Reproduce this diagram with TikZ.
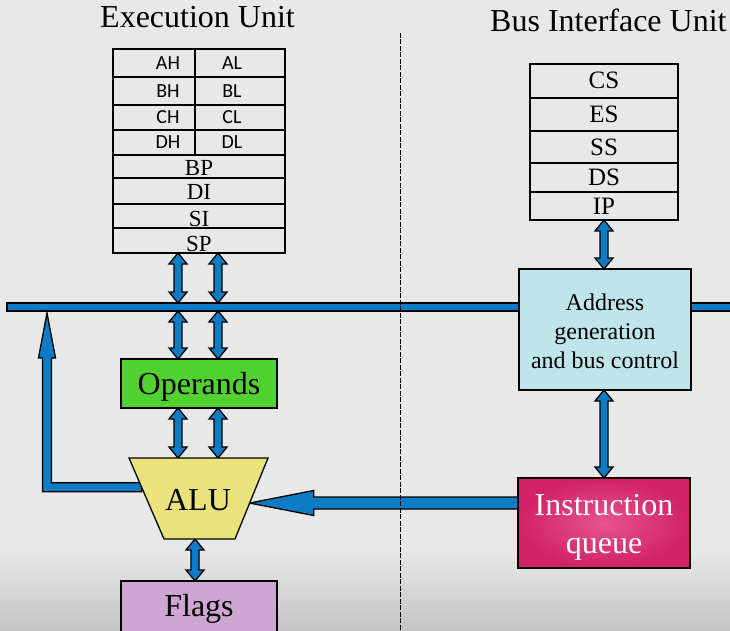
\documentclass[tikz,border=0pt]{standalone}
\usepackage{fontspec}
\setmainfont{Liberation Serif}
\newfontfamily\calib{Carlito}
\usetikzlibrary{calc}
\definecolor{busblue}{RGB}{14,124,196}
\definecolor{bgc}{RGB}{232,232,232}
\definecolor{bgd}{RGB}{196,196,196}
\definecolor{opsg}{RGB}{82,210,48}
\definecolor{aluy}{RGB}{234,226,122}
\definecolor{flagp}{RGB}{206,166,210}
\definecolor{agcc}{RGB}{190,230,234}
\definecolor{iqo}{RGB}{208,34,100}
\definecolor{iqi}{RGB}{230,84,144}
\tikzset{
  cell/.style={draw=black, line width=1.3pt, inner sep=0pt, outer sep=0pt, anchor=north west},
  eufont/.style={font=\fontsize{23}{23}\selectfont, text depth=0pt},
  biufont/.style={font=\fontsize{25}{25}\selectfont},
  rl/.style={inner sep=0pt, font=\calib\fontsize{20}{20}\selectfont},
  ttl/.style={anchor=base west, inner sep=0pt, font=\fontsize{32}{32}\selectfont},
  box/.style={draw=black, line width=1.3pt, inner sep=0pt, outer sep=0pt, anchor=north west},
  boxtext/.style={inner sep=0pt, align=center},
  busbar/.style={fill=busblue, draw=black, line width=1.3pt, inner sep=0pt, outer sep=0pt, anchor=north west, minimum height=8pt},
  arr/.style={fill=busblue, draw=black, line width=1.3pt, line join=miter},
  dashline/.style={draw=black, line width=0.9pt, dash pattern=on 5pt off 1.5pt}
}
\newcommand\vdarr[2]{\draw[arr] let \p1=(#1), \p2=(#2) in
  (\x1,\y1) -- (\x1+9pt,\y1-11pt) -- (\x1+4pt,\y1-11pt) -- (\x1+4pt,\y2+11pt) -- (\x1+9pt,\y2+11pt)
  -- (\x1,\y2) -- (\x1-9pt,\y2+11pt) -- (\x1-4pt,\y2+11pt) -- (\x1-4pt,\y1-11pt) -- (\x1-9pt,\y1-11pt) -- cycle;}
\begin{document}
\begin{tikzpicture}[x=1pt,y=-1pt]
\clip (0,0) rectangle (730,631);
\fill[bgc] (0,0) rectangle (730,631);
\shade[top color=bgc, bottom color=bgd] (0,550) rectangle (730,631);

% titles
\node[ttl] (eu) at (100,28) {Execution Unit};
\node[ttl] (biu) at (490,32) {Bus Interface Unit};

% EU registers
\node[cell, minimum width=82pt, minimum height=28pt] (ah) at (113,49) {};
\node[cell, minimum width=90pt, minimum height=28pt] (al) at (195,49) {};
\node[cell, minimum width=82pt, minimum height=28pt] (bh) at (113,77) {};
\node[cell, minimum width=90pt, minimum height=28pt] (bl) at (195,77) {};
\node[cell, minimum width=82pt, minimum height=25pt] (ch) at (113,105) {};
\node[cell, minimum width=90pt, minimum height=25pt] (cl) at (195,105) {};
\node[cell, minimum width=82pt, minimum height=25pt] (dh) at (113,130) {};
\node[cell, minimum width=90pt, minimum height=25pt] (dl) at (195,130) {};
\node[cell, eufont, text height=18pt, minimum width=172pt, minimum height=23pt] (bp) at (113,155) {BP};
\node[cell, eufont, text height=17pt, minimum width=172pt, minimum height=26pt] (di) at (113,178) {DI};
\node[cell, eufont, text height=21pt, minimum width=172pt, minimum height=24pt] (si) at (113,204) {SI};
\node[cell, eufont, text height=21pt, minimum width=172pt, minimum height=25pt] (sp) at (113,228) {SP};
\node[rl] (tah) at (168,63) {AH};
\node[rl] (tal) at (232,63) {AL};
\node[rl] (tbh) at (168,91) {BH};
\node[rl] (tbl) at (232,91) {BL};
\node[rl] (tch) at (168,117.5) {CH};
\node[rl] (tcl) at (232,117.5) {CL};
\node[rl] (tdh) at (168,142.5) {DH};
\node[rl] (tdl) at (232,142.5) {DL};

% BIU registers
\node[cell, biufont, minimum width=148pt, minimum height=34pt] (cs) at (530,64) {\raisebox{1.5pt}{CS}};
\node[cell, biufont, minimum width=148pt, minimum height=33pt] (es) at (530,98) {ES};
\node[cell, biufont, minimum width=148pt, minimum height=32pt] (ss) at (530,131) {SS};
\node[cell, biufont, minimum width=148pt, minimum height=29pt] (ds) at (530,163) {DS};
\node[cell, biufont, minimum width=148pt, minimum height=28pt] (ip) at (530,192) {IP};

% bus
\node[busbar, minimum width=512pt] (busL) at (7,303) {};
\node[busbar, minimum width=50pt] (busR) at (691,303) {};

% boxes
\coordinate (aluTL) at (129,458);
\coordinate (aluTR) at (268,458);
\coordinate (aluBR) at (235,539);
\coordinate (aluBL) at (164,539);
\node[box, fill=opsg, minimum width=156pt, minimum height=49pt] (ops) at (121,359) {};
\node[boxtext, font=\fontsize{32}{32}\selectfont, yshift=-3pt] (opst) at (ops.center) {Operands};
\node[box, fill=flagp, minimum width=156pt, minimum height=56pt, font=\fontsize{32}{32}\selectfont] (flags) at (121,581) {Flags};
\node[box, fill=agcc, minimum width=172pt, minimum height=121pt] (agc) at (519,269) {};
\node[boxtext, font=\fontsize{24}{29}\selectfont, yshift=-2pt] (agct) at (agc.center) {Address\\generation\\and bus control};
\node[box, inner color=iqi, outer color=iqo, minimum width=172pt, minimum height=90pt] (iq) at (518,478) {};
\node[boxtext, text=white, font=\fontsize{32}{38}\selectfont, yshift=-4pt] (iqt) at (iq.center) {Instruction\\queue};

% arrow x positions
\coordinate (xa) at (178,0);
\coordinate (xb) at (218,0);
\coordinate (xf) at (195,0);
\coordinate (xr) at (604,0);
\coordinate (xl) at (47,0);
\coordinate (qy) at (0,503);

\vdarr{xa |- sp.south}{xa |- busL.north}
\vdarr{xb |- sp.south}{xb |- busL.north}
\vdarr{xa |- busL.south}{xa |- ops.north}
\vdarr{xb |- busL.south}{xb |- ops.north}
\vdarr{xa |- ops.south}{xa |- aluTL}
\vdarr{xb |- ops.south}{xb |- aluTL}
\vdarr{xf |- aluBL}{xf |- flags.north}
\vdarr{xr |- ip.south}{xr |- agc.north}
\vdarr{xr |- agc.south}{xr |- iq.north}

% instruction queue -> ALU
\coordinate (alutip) at ($(aluTR)!0.556!(aluBR)$);
\draw[arr] let \p1=(iq.west |- qy), \p2=(alutip) in
  (\x1,\y1+6pt) -- (\x2+64pt,\y1+6pt) -- (\x2+64pt,\y1+12.5pt) -- (\x2,\y2)
  -- (\x2+64pt,\y1-12.5pt) -- (\x2+64pt,\y1-6pt) -- (\x1,\y1-6pt) -- cycle;

% ALU -> bus feedback
\coordinate (alul) at ($(aluTL)!0.36!(aluBL)$);
\draw[arr] let \p1=(alul), \p2=($(xl |- busL.south)+(0,2)$) in
  (\x1,\y1+4.5pt) -- (\x2+4.5pt,\y1+4.5pt) -- (\x2+4.5pt,\y2-45pt) -- (\x2+8.5pt,\y2-45pt)
  -- (\x2,\y2) -- (\x2-8.5pt,\y2-45pt) -- (\x2-4.5pt,\y2-45pt) -- (\x2-4.5pt,\y1-4.5pt)
  -- (\x1,\y1-4.5pt) -- cycle;

% ALU
\draw[fill=aluy, draw=black, line width=1.3pt, line join=miter] (aluTL) -- (aluTR) -- (aluBR) -- (aluBL) -- cycle;
\node[inner sep=0pt, font=\fontsize{32}{32}\selectfont] (alu) at (198,500) {ALU};

% divider
\coordinate (dtop) at (400,33);
\coordinate (dbot) at (400,631);
\draw[dashline] (dtop) -- (dbot);
\end{tikzpicture}
\end{document}
